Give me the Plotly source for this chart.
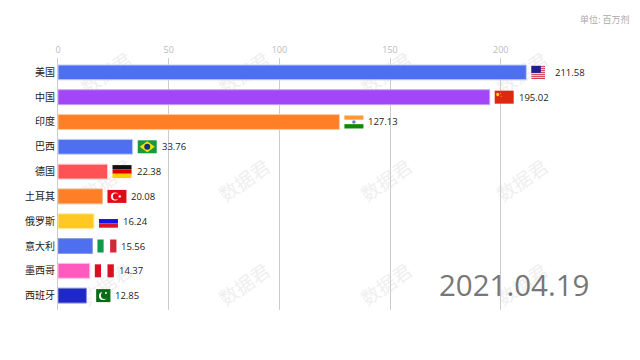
import plotly.graph_objects as go

categories = ["美国", "中国", "印度", "巴西", "德国", "土耳其", "俄罗斯", "意大利", "墨西哥", "西班牙"]
values = [211.58, 195.02, 127.13, 33.76, 22.38, 20.08, 16.24, 15.56, 14.37, 12.85]
colors = ["#4E70F0", "#A346F8", "#FF7F27", "#4E70F0", "#FF5257", "#FF7F27", "#FFC823", "#4E70F0", "#FF5ABE", "#1E28C8"]
outlines = ["#C9D3F8", "#C8A0F0", "#FFC9A0", "#C9D3F8", "#FFC9CC", "#E8B890", "#FFEBA8", "#8A9DD8", "#FFC0E4", "#8A90D8"]
flags = ["us", "cn", "in", "br", "de", "tr", "ru", "it", "pe", "pk"]
x_ticks = [0, 50, 100, 150, 200]
watermark_x = [107, 245, 387, 523]
watermark_y = [75, 182, 286]

W, H = 640, 360
L, R_END, TOP, BOT = 57.5, 544.8, 58, 310
FX0 = 5
FW = 19
FH = 6.5


def px(x):
    return (x - L) / (R_END - L)


def py(y):
    return (BOT - y) / (BOT - TOP)


def stripes_h(bands):
    out = []
    n = sum(b[0] for b in bands)
    y = FH
    for frac, col in bands:
        h = 2 * FH * frac / n
        out.append(("rect", 0, FW, y - h, y, col))
        y -= h
    return out


def stripes_v(bands):
    out = []
    n = sum(b[0] for b in bands)
    x = 0
    for frac, col in bands:
        w = FW * frac / n
        out.append(("rect", x, x + w, -FH, FH, col))
        x += w
    return out


def flag_parts(kind):
    if kind == "us":
        bands = [(1, "#C8283C" if i % 2 == 0 else "#F4E4E6") for i in range(13)]
        return stripes_h(bands) + [("rect", 0, 9.5, -0.5, FH, "#1E2090")]
    if kind == "cn":
        return [("rect", 0, FW, -FH, FH, "#DE2910"),
                ("circle", 1.5, 4.5, 1, 4.5, "#FFDE00"),
                ("circle", 5.5, 6.5, 3.5, 4.5, "#FFDE00"),
                ("circle", 6, 7, 0.5, 1.5, "#FFDE00")]
    if kind == "in":
        return stripes_h([(1, "#FF9933"), (1, "#FFFFFF"), (1, "#138808")]) + [("circle", 7.7, 11.3, -1.8, 1.8, "#7A80B8")]
    if kind == "br":
        return [("rect", 0, FW, -FH, FH, "#169B3A"),
                ("path", "M 2 0 L 9.5 5.5 L 17 0 L 9.5 -5.5 Z", "#FEDF00"),
                ("circle", 6.5, 12.5, -3, 3, "#1A2F80")]
    if kind == "de":
        return stripes_h([(1, "#111111"), (1, "#E00000"), (1, "#FFCE00")])
    if kind == "tr":
        return [("rect", 0, FW, -FH, FH, "#E30A17"),
                ("circle", 3.5, 11.5, -4, 4, "#FFFFFF"),
                ("circle", 5.5, 12, -3.2, 3.2, "#E30A17"),
                ("circle", 11, 13.5, -1.2, 1.2, "#FFFFFF")]
    if kind == "ru":
        return stripes_h([(1, "#FFFFFF"), (1, "#1414E6"), (1, "#E01428")])
    if kind == "it":
        return stripes_v([(1, "#109A48"), (1, "#FFFFFF"), (1, "#CE2B37")])
    if kind == "pe":
        return stripes_v([(1, "#D91023"), (1, "#FFFFFF"), (1, "#D91023")])
    if kind == "pk":
        return [("rect", 0, 4.7, -FH, FH, "#FFFFFF"),
                ("rect", 4.7, FW, -FH, FH, "#0B6B16"),
                ("circle", 7.5, 15.5, -4.5, 3.5, "#FFFFFF"),
                ("circle", 9.5, 16.5, -3.5, 4.2, "#0B6B16"),
                ("circle", 13.5, 15.5, 1.5, 3.5, "#FFFFFF")]
    return []


shapes = []
for wy in watermark_y:
    for wx in watermark_x:
        shapes.append(dict(type="rect", xref="paper", yref="paper", layer="below",
                           x0=px(wx - 30), x1=px(wx + 30), y0=py(wy + 20), y1=py(wy - 20),
                           line=dict(width=0), fillcolor="rgba(0,0,0,0)",
                           label=dict(text="数据君", textangle=-35, textposition="middle center",
                                      font=dict(family="Noto Sans CJK SC", size=19, color="#EFEFEF"))))

for i, (val, kind) in enumerate(zip(values, flags)):
    for part in flag_parts(kind):
        base = dict(xref="x", yref="y", xsizemode="pixel", ysizemode="pixel",
                    xanchor=val, yanchor=i, layer="above", line=dict(width=0))
        if part[0] == "path":
            pts = part[1].split()
            new = []
            j = 0
            while j < len(pts):
                if pts[j] in "MLZ":
                    new.append(pts[j])
                    j += 1
                else:
                    new.append(f"{float(pts[j]) + FX0} {float(pts[j + 1])}")
                    j += 2
            shapes.append(dict(type="path", path=" ".join(new), fillcolor=part[2], **base))
        else:
            shapes.append(dict(type=part[0], x0=part[1] + FX0, x1=part[2] + FX0,
                               y0=part[3], y1=part[4], fillcolor=part[5], **base))

fig = go.Figure(go.Bar(
    x=values, y=categories, orientation="h", width=0.6,
    marker=dict(color=colors, line=dict(color=outlines, width=1)),
    hoverinfo="skip", cliponaxis=False,
))

annotations = []
for v, c in zip(values, categories):
    annotations.append(dict(x=v, y=c, xref="x", yref="y", text=f"{v:.2f}", showarrow=False,
                            xanchor="left", yanchor="middle", xshift=27,
                            font=dict(family="Open Sans", size=9.5, color="#222222")))
annotations.append(dict(x=px(632), y=py(19), xref="paper", yref="paper", text="单位: 百万剂", showarrow=False,
                        xanchor="right", yanchor="middle", font=dict(family="Noto Sans CJK SC", size=9, color="#AAAAAA")))
annotations.append(dict(x=px(591), y=py(284), xref="paper", yref="paper", text="2021.04.19", showarrow=False,
                        xanchor="right", yanchor="middle", font=dict(family="Open Sans", size=29.5, color="#777777")))

fig.update_layout(
    width=W, height=H, autosize=False,
    paper_bgcolor="white", plot_bgcolor="rgba(0,0,0,0)",
    margin=dict(l=L, r=W - R_END, t=TOP, b=H - BOT, pad=0),
    showlegend=False, shapes=shapes, annotations=annotations,
    xaxis=dict(side="top", range=[0, 220], tickvals=x_ticks, ticks="", showline=False, zeroline=False,
               showgrid=True, gridcolor="#CCCCCC", gridwidth=1,
               tickfont=dict(family="Open Sans", size=9, color="#BBBBBB"), ticklabelstandoff=2),
    yaxis=dict(type="category", categoryorder="array", categoryarray=categories, range=[9.58, -0.58],
               ticks="", showgrid=False, zeroline=False, showline=True, linecolor="#CCCCCC", linewidth=1,
               tickfont=dict(family="Noto Sans CJK SC", size=10, color="#222222"), ticklabelstandoff=0),
)
fig.write_html("out.html", config={"displayModeBar": False},
               post_script="document.body.style.margin='0';")
